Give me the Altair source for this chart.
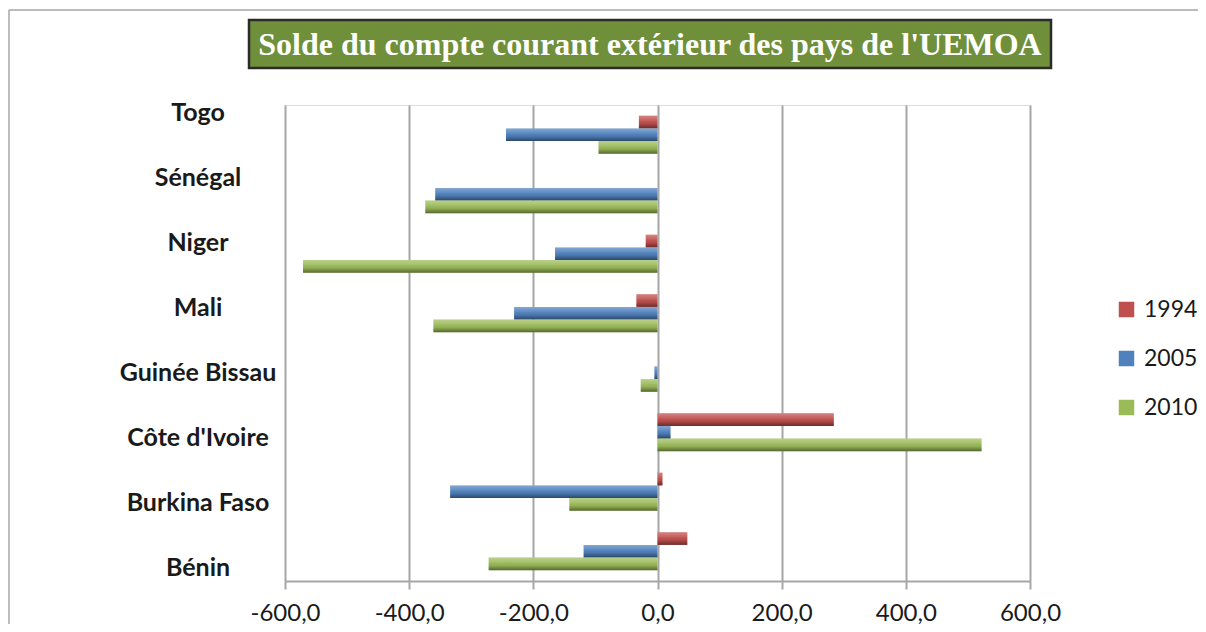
import altair as alt
import pandas as pd

countries = ["Togo", "Sénégal", "Niger", "Mali", "Guinée Bissau",
             "Côte d'Ivoire", "Burkina Faso", "Bénin"]
years = ["1994", "2005", "2010"]
v1994 = [-30, 0, -19, -34, 0, 284, 8, 48]
v2005 = [-244, -358, -165, -231, -5, 21, -334, -119]
v2010 = [-95, -374, -571, -361, -27, 522, -142, -272]
colors = ["#C0504D", "#4F81BD", "#9BBB59"]
x_ticks = [-600, -400, -200, 0, 200, 400, 600]
title_text = "Solde du compte courant extérieur des pays de l'UEMOA"

rows = []
for i, c in enumerate(countries):
    for y, vals in zip(years, [v1994, v2005, v2010]):
        rows.append({"pays": c, "annee": y, "valeur": vals[i]})
df = pd.DataFrame(rows)

lab = pd.DataFrame({"pays": countries,
                    "idx": list(range(len(countries) - 1, -1, -1))})
one = pd.DataFrame({"k": [0]})

FONT = "Lato"
W, H = 745, 476

y_enc = alt.Y("pays:N", sort=countries, title=None,
              scale=alt.Scale(paddingInner=0.36, paddingOuter=0.18),
              axis=None)
yoff = alt.YOffset("annee:N", sort=years)
x_enc = alt.X("valeur:Q", title=None,
              scale=alt.Scale(domain=[-600, 600], nice=False),
              axis=alt.Axis(values=x_ticks, grid=True, gridColor="#a6a6a6",
                            gridWidth=2, domainColor="#a6a6a6", domainWidth=2,
                            tickColor="#a6a6a6", tickWidth=2, tickSize=8,
                            labelFont=FONT, labelFontSize=24, labelFlush=False,
                            labelOverlap=False, labelBaseline="top",
                            labelColor="#1a1a1a", labelPadding=12,
                            labelExpr="(datum.value < 0 ? '-' : '') + replace(format(abs(datum.value), '.1f'), '.', ',')"))

bars = alt.Chart(df).mark_bar(cornerRadius=0).encode(
    y=y_enc, yOffset=yoff, x=x_enc,
    color=alt.Color("annee:N", sort=years,
                    scale=alt.Scale(domain=years, range=colors),
                    legend=alt.Legend(title=None, orient="none",
                                      legendX=830, legendY=193,
                                      symbolType="square", symbolSize=240,
                                      symbolStrokeWidth=0, symbolOpacity=1,
                                      labelFont=FONT, labelFontSize=23,
                                      labelColor="#1a1a1a", labelOffset=6,
                                      rowPadding=25, padding=0)),
)

shade = alt.Chart(df).mark_bar(
    fill=alt.Gradient(
        gradient="linear", x1=0, x2=0, y1=0, y2=1,
        stops=[alt.GradientStop(offset=0, color="rgba(255,255,255,0.30)"),
               alt.GradientStop(offset=0.35, color="rgba(255,255,255,0.10)"),
               alt.GradientStop(offset=0.6, color="rgba(0,0,0,0.05)"),
               alt.GradientStop(offset=1, color="rgba(0,0,0,0.45)")])
).encode(y=y_enc, yOffset=yoff, x=alt.X("valeur:Q"))

labels = alt.Chart(lab).mark_text(
    font=FONT, fontSize=25, fontWeight="bold", color="#1a1a1a",
    align="center", baseline="middle"
).encode(
    y=alt.Y("idx:Q", scale=alt.Scale(domain=[-0.2, 7.123], nice=False, zero=False),
            axis=None),
    x=alt.value(-87),
    text="pays:N",
)

title_box = alt.Chart(one).mark_rect(
    fill="#6F8F3A", stroke="#2b2b2b", strokeWidth=2.5
).encode(x=alt.value(-36), x2=alt.value(766), y=alt.value(-85), y2=alt.value(-37))

title = alt.Chart(one).mark_text(
    text=title_text, font="Liberation Serif", fontSize=32, fontWeight="bold",
    color="white", align="center", baseline="middle"
).encode(x=alt.value(365), y=alt.value(-60))

border_top = alt.Chart(one).mark_rule(color="#a6a6a6", strokeWidth=1.5).encode(
    x=alt.value(-276), x2=alt.value(913), y=alt.value(-95))
border_left = alt.Chart(one).mark_rule(color="#a6a6a6", strokeWidth=1.5).encode(
    x=alt.value(-276), y=alt.value(-95), y2=alt.value(545))

chart = alt.layer(
    border_top, border_left, bars, shade, labels, title_box, title
).resolve_scale(y="independent").properties(
    width=W, height=H,
    autosize=alt.AutoSizeParams(type="none"),
    padding={"left": 277, "top": 97, "right": 168, "bottom": 43},
).configure_view(stroke=None).configure(background="white")

chart.save("out.html", embed_options={"renderer": "svg", "actions": False})
